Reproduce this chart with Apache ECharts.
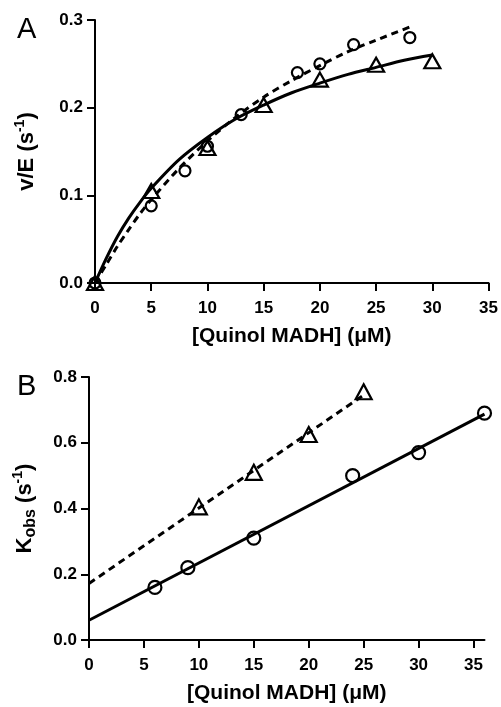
<!DOCTYPE html>
<html>
<head>
<meta charset="utf-8">
<script src="https://cdn.jsdelivr.net/npm/echarts@6/dist/echarts.min.js"></script>
<style>
html,body{margin:0;padding:0;background:#fff;}
#c{width:501px;height:707px;}
</style>
</head>
<body>
<div id="c"></div>
<script>
// Panel A data
const aCircX = [0, 5, 8, 10, 13, 18, 20, 23, 28];
const aCircY = [0, 0.088, 0.128, 0.156, 0.192, 0.240, 0.250, 0.272, 0.280];
const aTriX = [0, 5, 10, 15, 20, 25, 30];
const aTriY = [0, 0.105, 0.154, 0.203, 0.232, 0.249, 0.253];
// Panel A fitted curves
const aSolidX = [0, 1, 2, 3, 4, 5, 7.5, 10, 12.5, 15, 17.5, 20, 22.5, 25, 27.5, 30];
const aSolidY = [0, 0.028, 0.053, 0.074, 0.092, 0.108, 0.141, 0.166, 0.187, 0.203, 0.217, 0.228, 0.238, 0.246, 0.254, 0.260];
const aDashX = [0, 1, 2, 3, 4, 5, 7.5, 10, 12.5, 15, 17.5, 20, 22.5, 25, 28];
const aDashY = [0, 0.021, 0.042, 0.061, 0.079, 0.095, 0.131, 0.162, 0.189, 0.212, 0.231, 0.248, 0.264, 0.277, 0.292];
// Panel B data
const bCircX = [6, 9, 15, 24, 30, 36];
const bCircY = [0.16, 0.22, 0.31, 0.50, 0.57, 0.69];
const bTriX = [10, 15, 20, 25];
const bTriY = [0.405, 0.51, 0.625, 0.755];
const bSolidX = [0, 36];
const bSolidY = [0.06, 0.687];
const bDashX = [0, 25];
const bDashY = [0.172, 0.745];
// Axis ticks [min, max, interval]
const aXTicks = [0, 35, 5];
const aYTicks = [0, 0.3, 0.1];
const bXTicks = [0, 36, 5];
const bYTicks = [0, 0.8, 0.2];

const zip = (xs, ys) => xs.map((x, i) => [x, ys[i]]);
const FONT = "'Liberation Sans', Arial, sans-serif";
const black = '#000';

function xAxisCfg(gi, t) {
  return {
    gridIndex: gi, type: 'value', min: t[0], max: t[1], interval: t[2],
    name: '[Quinol MADH] (\u03bcM)', nameLocation: 'middle', nameGap: 43,
    nameTextStyle: { fontFamily: FONT, fontWeight: 'bold', fontSize: 21, color: black },
    axisLine: { onZero: false, lineStyle: { color: black, width: 2 } },
    axisTick: { show: true, length: 8, lineStyle: { color: black, width: 2 } },
    axisLabel: { margin: 17, fontFamily: FONT, fontWeight: 'bold', fontSize: 17, color: black },
    splitLine: { show: false }
  };
}
function yAxisCfg(gi, t, name, gap) {
  return {
    gridIndex: gi, type: 'value', min: t[0], max: t[1], interval: t[2],
    name: name, nameLocation: 'middle', nameGap: gap, nameRotate: 90,
    nameTextStyle: {
      fontFamily: FONT, color: black,
      rich: {
        t: { fontFamily: FONT, fontWeight: 'bold', fontSize: 22, lineHeight: 28, verticalAlign: 'middle', color: black },
        sup: { fontFamily: FONT, fontWeight: 'bold', fontSize: 14, lineHeight: 28, verticalAlign: 'top', color: black },
        sub: { fontFamily: FONT, fontWeight: 'bold', fontSize: 16, lineHeight: 28, verticalAlign: 'bottom', color: black }
      }
    },
    axisLine: { onZero: false, lineStyle: { color: black, width: 2 } },
    axisTick: { show: true, length: 8, lineStyle: { color: black, width: 2 } },
    axisLabel: { margin: 12, fontFamily: FONT, fontWeight: 'bold', fontSize: 17, color: black,
      formatter: v => v.toFixed(1) },
    splitLine: { show: false }
  };
}
function lineSeries(xi, xs, ys, dashed, smooth) {
  return {
    type: 'line', xAxisIndex: xi, yAxisIndex: xi, data: zip(xs, ys),
    showSymbol: false, smooth: smooth ? 0.3 : false, silent: true,
    lineStyle: { color: black, width: 3, type: dashed ? [7, 5] : 'solid' }, z: 2
  };
}
function markSeries(xi, xs, ys, symbol, size) {
  return {
    type: 'scatter', xAxisIndex: xi, yAxisIndex: xi, data: zip(xs, ys),
    symbol: symbol, symbolSize: size,
    itemStyle: { color: 'rgba(255,255,255,0)', borderColor: black, borderWidth: 2.2, opacity: 1 }, z: 3
  };
}

const chart = echarts.init(document.getElementById('c'), null, { renderer: 'canvas' });
chart.setOption({
  animation: false,
  backgroundColor: '#fff',
  grid: [
    { left: 95, top: 20, right: 12, bottom: 424 },
    { left: 89, top: 377, right: 16.5, bottom: 67 }
  ],
  xAxis: [xAxisCfg(0, aXTicks), xAxisCfg(1, bXTicks)],
  yAxis: [
    yAxisCfg(0, aYTicks, '{t|v/E (s}{sup|-1}{t|)}', 54),
    yAxisCfg(1, bYTicks, '{t|K}{sub|obs}{t| (s}{sup|-1}{t|)}', 50)
  ],
  graphic: [
    { type: 'text', left: 17, top: 15, style: { text: 'A', font: '29px ' + FONT, fill: black } },
    { type: 'text', left: 17, top: 372, style: { text: 'B', font: '29px ' + FONT, fill: black } }
  ],
  series: [
    lineSeries(0, aSolidX, aSolidY, false, true),
    lineSeries(0, aDashX, aDashY, true, true),
    markSeries(0, aCircX, aCircY, 'circle', 11),
    markSeries(0, aTriX, aTriY, 'triangle', [16, 14]),
    lineSeries(1, bSolidX, bSolidY, false, false),
    lineSeries(1, bDashX, bDashY, true, false),
    markSeries(1, bCircX, bCircY, 'circle', 13),
    markSeries(1, bTriX, bTriY, 'triangle', [16, 15])
  ]
});
</script>
</body>
</html>
